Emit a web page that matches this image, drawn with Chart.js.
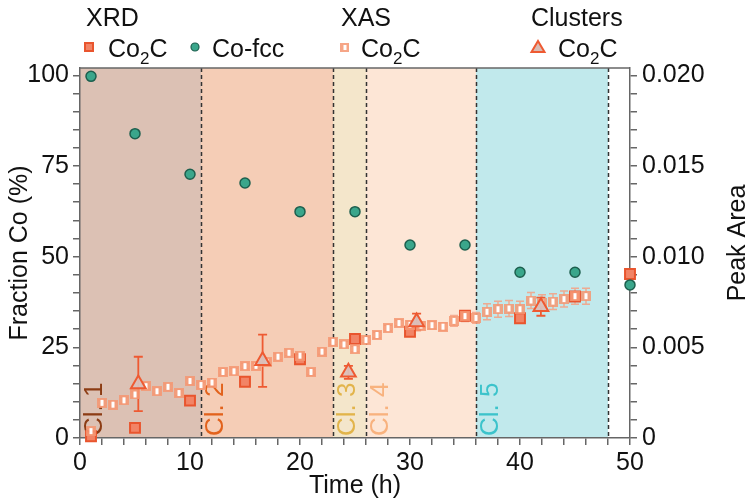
<!DOCTYPE html>
<html>
<head>
<meta charset="utf-8">
<script src="https://cdn.jsdelivr.net/npm/chart.js@4.4.0/dist/chart.umd.min.js"></script>
<style>
  body { margin: 0; background: #fff; }
</style>
</head>
<body>
<canvas id="myChart" width="750" height="502"></canvas>
<script>
// XRD peak areas (right axis)
var xrdTime = [1, 5, 10, 15, 20, 25, 30, 35, 40, 45, 50];
var xrdCo2C = [0.0001, 0.00056, 0.00206, 0.0031, 0.00434, 0.00546, 0.00586, 0.00674, 0.0066, 0.0078, 0.00904];
var xrdCoFcc = [0.01994, 0.01678, 0.01454, 0.01406, 0.01248, 0.01248, 0.01064, 0.01064, 0.00914, 0.00914, 0.00844];

// XAS Co2C fraction (%), one point per hour
var xasTime = [1, 2, 3, 4, 5, 6, 7, 8, 9, 10, 11, 12, 13, 14, 15, 16, 17, 18, 19, 20, 21, 22, 23,
  24, 25, 26, 27, 28, 29, 30, 31, 32, 33, 34, 35, 36, 37, 38, 39, 40, 41, 42, 43, 44, 45, 46];
var xasCo2C = [1.9, 9.7, 9.2, 10.4, 12.0, 14.3, 12.9, 14.1, 12.4, 15.7,
  14.6, 15.3, 18.2, 18.4, 19.8, 19.9, 21.0, 22.4, 23.5, 22.7,
  18.2, 23.8, 26.5, 25.8, 24.5, 27.0, 28.4, 30.3, 31.7, 31.2,
  31.0, 31.1, 30.7, 32.3, 33.6, 33.1, 34.8, 35.5, 35.7, 35.5,
  37.9, 37.3, 37.6, 38.3, 39.1, 39.1];
var xasErr = [0.8, 0.8, 0.8, 0.8, 0.8, 0.8, 0.8, 0.8, 0.8, 0.8,
  0.8, 0.8, 0.8, 0.8, 0.8, 0.8, 0.8, 0.8, 0.8, 0.8,
  0.8, 0.8, 0.8, 0.8, 0.8, 0.8, 0.8, 0.8, 0.8, 1.0,
  1.0, 1.0, 1.0, 1.5, 1.5, 1.5, 2.2, 2.2, 2.2, 2.2,
  2.2, 2.2, 2.2, 2.2, 2.2, 2.2];

// cluster analysis Co2C fraction (%)
var clusterTime = [5.3, 16.6, 24.4, 30.6, 41.9];
var clusterCo2C = [14.9, 21.3, 18.1, 32.0, 36.2];
var clusterErr = [7.5, 7.2, 1.8, 2.3, 2.5];

// cluster periods
var regionNames = ['Cl. 1', 'Cl. 2', 'Cl. 3', 'Cl. 4', 'Cl. 5'];
var regionStart = [0, 11, 23, 26, 36];
var regionEnd = [11, 23, 26, 36, 48];

// tick labels
var xTickLabels = [0, 10, 20, 30, 40, 50];
var yTickLabels = [0, 25, 50, 75, 100];
var y1TickLabels = ['0', '0.005', '0.010', '0.015', '0.020'];

var regionFill = ['#dcc1b4', '#f5cdb6', '#f4e6cb', '#fde6d6', '#c1e9ec'];
var regionText = ['#8c3c14', '#e2621c', '#e2b44a', '#f8b27e', '#3cc3cb'];
var FONT = '"Liberation Sans", Arial, sans-serif';

function pts(xs, ys) {
  var out = [];
  for (var i = 0; i < xs.length; i++) out.push({x: xs[i], y: ys[i]});
  return out;
}

// XAS marker: light square with a white slot
function xasMarker(s) {
  var c = document.createElement('canvas');
  c.width = s; c.height = s;
  var g = c.getContext('2d');
  g.fillStyle = 'rgba(245,150,114,0.85)';
  g.fillRect(0, 0, s, s);
  g.fillStyle = '#fff';
  g.fillRect(Math.round(s / 2) - 1.5, 2, 3, s - 4);
  return c;
}
var xasImg = xasMarker(10);

function drawCo2C(ctx, x, y) {
  ctx.font = '25px ' + FONT;
  ctx.fillText('Co', x, y);
  var w = ctx.measureText('Co').width;
  ctx.font = '17px ' + FONT;
  ctx.fillText('2', x + w, y + 7);
  var w2 = ctx.measureText('2').width;
  ctx.font = '25px ' + FONT;
  ctx.fillText('C', x + w + w2, y);
}

function errBar(ctx, x, yLo, yHi, cap) {
  ctx.beginPath();
  ctx.moveTo(x, yLo); ctx.lineTo(x, yHi);
  ctx.moveTo(x - cap, yLo); ctx.lineTo(x + cap, yLo);
  ctx.moveTo(x - cap, yHi); ctx.lineTo(x + cap, yHi);
  ctx.stroke();
}

var decor = {
  id: 'decor',
  beforeDraw: function(chart) {
    var ctx = chart.ctx, a = chart.chartArea, xs = chart.scales.x;
    ctx.save();
    ctx.fillStyle = '#fff';
    ctx.fillRect(0, 0, chart.width, chart.height);
    for (var i = 0; i < regionStart.length; i++) {
      var x0 = xs.getPixelForValue(regionStart[i]);
      var x1 = xs.getPixelForValue(regionEnd[i]);
      ctx.fillStyle = regionFill[i];
      ctx.fillRect(x0, a.top, x1 - x0, a.bottom - a.top);
    }
    ctx.restore();
  },
  beforeDatasetsDraw: function(chart) {
    var ctx = chart.ctx, a = chart.chartArea, xs = chart.scales.x, ys = chart.scales.y;
    ctx.save();
    // region labels
    ctx.font = '26px ' + FONT;
    ctx.textAlign = 'left';
    ctx.textBaseline = 'alphabetic';
    for (var i = 0; i < regionNames.length; i++) {
      ctx.save();
      ctx.translate(xs.getPixelForValue(regionStart[i]) + 22, a.bottom - 2);
      ctx.rotate(-Math.PI / 2);
      ctx.fillStyle = regionText[i];
      ctx.fillText(regionNames[i], 0, 0);
      ctx.restore();
    }
    // dashed boundaries
    ctx.strokeStyle = '#333';
    ctx.lineWidth = 1.5;
    ctx.setLineDash([4, 3]);
    for (var j = 0; j < regionEnd.length; j++) {
      var x = Math.round(xs.getPixelForValue(regionEnd[j])) + 0.5;
      ctx.beginPath();
      ctx.moveTo(x, a.top);
      ctx.lineTo(x, a.bottom);
      ctx.stroke();
    }
    ctx.setLineDash([]);
    // top frame
    ctx.strokeStyle = '#666';
    ctx.beginPath();
    ctx.moveTo(a.left, a.top);
    ctx.lineTo(a.right, a.top);
    ctx.stroke();
    // XAS error bars
    ctx.strokeStyle = 'rgba(245,160,130,0.85)';
    ctx.lineWidth = 1.5;
    for (var k = 0; k < xasTime.length; k++) {
      var px = xs.getPixelForValue(xasTime[k]);
      errBar(ctx, px, ys.getPixelForValue(xasCo2C[k] - xasErr[k]), ys.getPixelForValue(xasCo2C[k] + xasErr[k]), 4);
    }
    // cluster error bars
    ctx.strokeStyle = '#ee5a32';
    ctx.lineWidth = 1.8;
    for (var m = 0; m < clusterTime.length; m++) {
      var cx = xs.getPixelForValue(clusterTime[m]);
      errBar(ctx, cx, ys.getPixelForValue(clusterCo2C[m] - clusterErr[m]), ys.getPixelForValue(clusterCo2C[m] + clusterErr[m]), 4.5);
    }
    ctx.restore();
  },
  afterDraw: function(chart) {
    var ctx = chart.ctx, a = chart.chartArea;
    ctx.save();
    ctx.fillStyle = '#111';
    ctx.textBaseline = 'alphabetic';
    ctx.textAlign = 'left';
    // legend headers
    ctx.font = '25px ' + FONT;
    ctx.fillText('XRD', 86, 26);
    ctx.fillText('XAS', 341, 26);
    ctx.fillText('Clusters', 531, 26);
    // legend entries
    var ly = 47;
    ctx.fillStyle = '#f28466';
    ctx.strokeStyle = '#e9552e';
    ctx.lineWidth = 2;
    ctx.fillRect(85, ly - 4, 8, 8);
    ctx.strokeRect(85, ly - 4, 8, 8);
    ctx.beginPath();
    ctx.arc(195, ly, 4, 0, Math.PI * 2);
    ctx.fillStyle = '#3aa68b';
    ctx.fill();
    ctx.strokeStyle = '#1d5f4e';
    ctx.lineWidth = 1.2;
    ctx.stroke();
    ctx.drawImage(xasMarker(9), 340, ly - 4);
    ctx.beginPath();
    ctx.moveTo(538, ly - 6);
    ctx.lineTo(544.5, ly + 5);
    ctx.lineTo(531.5, ly + 5);
    ctx.closePath();
    ctx.fillStyle = '#d9bcb4';
    ctx.fill();
    ctx.strokeStyle = '#ee5a32';
    ctx.lineWidth = 2;
    ctx.stroke();
    ctx.fillStyle = '#111';
    drawCo2C(ctx, 108, 57);
    ctx.font = '25px ' + FONT;
    ctx.fillText('Co-fcc', 212, 57);
    drawCo2C(ctx, 361, 57);
    drawCo2C(ctx, 558, 57);
    // axis titles
    ctx.font = '25px ' + FONT;
    ctx.textAlign = 'center';
    ctx.fillText('Time (h)', (a.left + a.right) / 2, 493);
    ctx.textBaseline = 'middle';
    ctx.save();
    ctx.translate(20, (a.top + a.bottom) / 2);
    ctx.rotate(-Math.PI / 2);
    ctx.fillText('Fraction Co (%)', 0, 0);
    ctx.restore();
    ctx.save();
    ctx.translate(738, 243);
    ctx.rotate(-Math.PI / 2);
    ctx.fillText('Peak Area', 0, 0);
    ctx.restore();
    ctx.restore();
  }
};

function keepSteps(step) {
  return function(axis) {
    axis.ticks = axis.ticks.filter(function(t) {
      var r = t.value / step;
      return Math.abs(r - Math.round(r)) < 1e-6;
    });
  };
}

var tickFont = {family: FONT, size: 25};
var axisGrid = {drawOnChartArea: false, color: '#666', lineWidth: 1.5, tickLength: 7};
var axisBorder = {display: true, color: '#666', width: 1.5};

var ctx = document.getElementById('myChart').getContext('2d');
var myChart = new Chart(ctx, {
  type: 'scatter',
  data: {
    datasets: [{
      label: 'Co-fcc',
      data: pts(xrdTime, xrdCoFcc),
      yAxisID: 'y1',
      pointStyle: 'circle',
      pointRadius: 5,
      backgroundColor: '#3aa68b',
      borderColor: '#1d5f4e',
      borderWidth: 1.5,
      clip: false,
      order: 0
    }, {
      label: 'Clusters Co2C',
      data: pts(clusterTime, clusterCo2C),
      yAxisID: 'y',
      pointStyle: 'triangle',
      pointRadius: 8.5,
      backgroundColor: 'rgba(218,192,186,0.95)',
      borderColor: '#ee5a32',
      borderWidth: 2,
      clip: false,
      order: 1
    }, {
      label: 'XAS Co2C',
      data: pts(xasTime, xasCo2C),
      yAxisID: 'y',
      pointStyle: xasImg,
      pointRadius: 5,
      clip: false,
      order: 2
    }, {
      label: 'XRD Co2C',
      data: pts(xrdTime, xrdCo2C),
      yAxisID: 'y1',
      pointStyle: 'rect',
      pointRadius: 7,
      backgroundColor: '#f28466',
      borderColor: '#e9552e',
      borderWidth: 2,
      clip: false,
      order: 3
    }]
  },
  options: {
    responsive: false,
    animation: false,
    layout: {padding: {top: 68, left: 0, right: 0, bottom: 0}},
    plugins: {legend: {display: false}, tooltip: {enabled: false}},
    scales: {
      x: {
        type: 'linear', min: 0, max: 50,
        grid: axisGrid, border: axisBorder,
        ticks: {
          stepSize: 2, autoSkip: false, maxRotation: 0, padding: 3, includeBounds: false,
          color: '#111', font: tickFont,
          callback: function(v) { return xTickLabels.indexOf(Math.round(v)) >= 0 && Math.abs(v - Math.round(v)) < 1e-6 ? String(Math.round(v)) : ''; }
        },
        afterBuildTicks: keepSteps(2),
        afterFit: function(axis) { axis.height = 64; }
      },
      y: {
        type: 'linear', position: 'left', min: 0, max: 102,
        grid: axisGrid, border: axisBorder,
        ticks: {
          stepSize: 5, autoSkip: false, padding: 4, includeBounds: false,
          color: '#111', font: tickFont,
          callback: function(v) { var r = Math.round(v); return yTickLabels.indexOf(r) >= 0 ? String(r) : ''; }
        },
        afterBuildTicks: keepSteps(5),
        afterFit: function(axis) { axis.width = 80; }
      },
      y1: {
        type: 'linear', position: 'right', min: 0, max: 0.0204,
        grid: axisGrid, border: axisBorder,
        ticks: {
          stepSize: 0.001, autoSkip: false, padding: 5, includeBounds: false,
          color: '#111', font: tickFont,
          callback: function(v) {
            var k = Math.round(v * 1000);
            return k % 5 === 0 ? y1TickLabels[k / 5] : '';
          }
        },
        afterBuildTicks: keepSteps(0.001),
        afterFit: function(axis) { axis.width = 120; }
      }
    }
  },
  plugins: [decor]
});
</script>
</body>
</html>
